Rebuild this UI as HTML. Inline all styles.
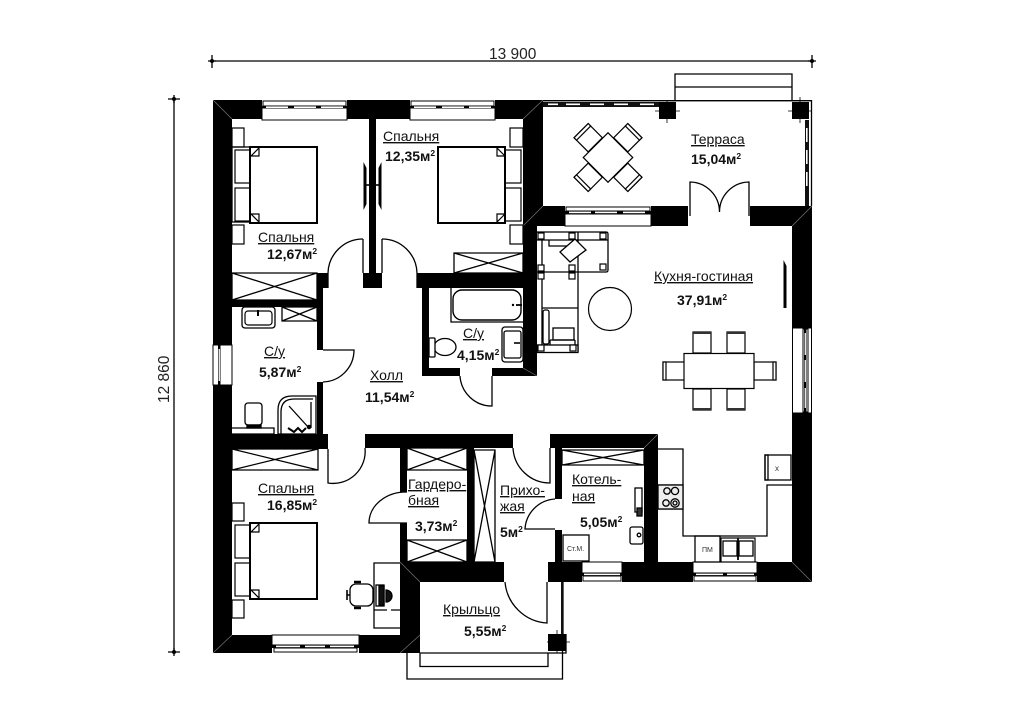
<!DOCTYPE html>
<html><head><meta charset="utf-8"><style>
html,body{margin:0;padding:0;background:#fff}
svg{display:block}
text{font-family:"Liberation Sans",sans-serif;font-size:14px;fill:#111}
.b{font-weight:bold}
.u{text-decoration:underline}
.l{fill:none;stroke:#000;stroke-width:1.3}
.t{fill:none;stroke:#000;stroke-width:.9}
.w{fill:#fff;stroke:#000;stroke-width:1.2}
.s{font-size:8.5px}
</style></head><body>
<svg width="1024" height="724" viewBox="0 0 1024 724" xmlns="http://www.w3.org/2000/svg">
<defs>
<g id="win">
<rect x="0" y="0" width="85" height="20" fill="#fff"/>
<rect x="1" y="1" width="83" height="5" fill="#fff" stroke="#000" stroke-width="1"/>
<rect x="0" y="8" width="85" height="12" fill="#fff" stroke="#000" stroke-width="1"/>
<rect x="0" y="6" width="85" height="2.5" fill="#000"/>
<rect x="4" y="6.4" width="22" height="1.6" fill="#fff"/><rect x="32" y="6.4" width="22" height="1.6" fill="#fff"/><rect x="59" y="6.4" width="22" height="1.6" fill="#fff"/>
</g>
<g id="chair"><rect x="0" y="0" width="18" height="21" class="w"/><rect x="0" y="0" width="18" height="2" fill="#333"/></g>
<g id="tc"><rect x="-10" y="-38" width="20" height="20" class="w"/><rect x="-10" y="-38" width="20" height="3.500" class="w"/></g>
</defs>

<!-- dimensions -->
<path d="M210 61H812" class="l" stroke-width="1.2"/>
<path d="M212 55V68M812 55V68M208 61h8M808 61h8" class="l"/>
<circle cx="212" cy="61" r="2"/><circle cx="812" cy="61" r="2"/>
<path d="M174 99V652" class="l" stroke-width="1.2"/>
<path d="M168 99h12M168 652h12M174 95v8M174 648v8" class="l"/>
<circle cx="174" cy="99" r="2"/><circle cx="174" cy="652" r="2"/>
<text x="489" y="59" style="font-size:15.5px;fill:#222" xml:space="preserve">13 900</text>
<text transform="translate(169,403) rotate(-90)" style="font-size:15.5px;fill:#222" xml:space="preserve">12 860</text>

<!-- terrace / porch light outlines -->
<rect x="543" y="100" width="269" height="1.4" fill="#000"/>
<path d="M811.5 100V206" class="l" stroke-width="1.2"/>
<path d="M675 100V74H792V100M675 87H792" class="l"/>
<path d="M420 653H566V634M407 653V679H562.500V651M420 653V666.500H548V653M563 582V634" class="l"/>

<!-- walls -->
<g fill="#000">
<rect x="213" y="100" width="19" height="553"/>
<rect x="213" y="100" width="330" height="19"/>
<rect x="523" y="100" width="20" height="126"/>
<rect x="369" y="119" width="7" height="154"/>
<rect x="363" y="273" width="19" height="15"/>
<rect x="523" y="206" width="165" height="20"/>
<rect x="750" y="206" width="62" height="20"/>
<rect x="792" y="206" width="20" height="376"/>
<rect x="523" y="226" width="14" height="150"/>
<rect x="417" y="273" width="106" height="15"/>
<rect x="317" y="273" width="11" height="15"/>
<rect x="232" y="300" width="91" height="7"/>
<rect x="317" y="273" width="6" height="77"/>
<rect x="317" y="382" width="6" height="52"/>
<rect x="232" y="434" width="96" height="15"/>
<rect x="422" y="288" width="7" height="88"/>
<rect x="422" y="368" width="38" height="8"/>
<rect x="492" y="368" width="45" height="8"/>
<rect x="365" y="434" width="148" height="14"/>
<rect x="550" y="434" width="108" height="14"/>
<rect x="400" y="448" width="7" height="44"/>
<rect x="400" y="523" width="7" height="40"/>
<rect x="467" y="448" width="7" height="115"/>
<rect x="400" y="562" width="104" height="20"/>
<rect x="400" y="562" width="20" height="91"/>
<rect x="213" y="635" width="207" height="18"/>
<rect x="555" y="448" width="7" height="51"/>
<rect x="555" y="530" width="7" height="35"/>
<rect x="644" y="448" width="14" height="120"/>
<rect x="548" y="562" width="264" height="20"/>
<rect x="548" y="634" width="18" height="17"/>
<rect x="659" y="102" width="17" height="17"/>
<rect x="792" y="102" width="17" height="17"/>
</g>
<path d="M213 100l19 19M543 100l-20 19M213 653l19-18M400 562l20 20M400 653l20-18M812 206l-20 20M812 582l-20-20M658 434l-14 14M543 206l-20 20M537 376l-14-8" stroke="#777" stroke-width=".7"/>
<path d="M655 111h25M667 100v23M788 111h24M800 97v26M547 642h23M557 630v23" stroke="#000" stroke-width=".8"/>

<!-- terrace glazing -->
<g>
<rect x="543" y="102" width="116" height="5" fill="#111"/>
<rect x="566" y="103.500" width="14" height="1.600" fill="#fff"/><rect x="590" y="103.500" width="14" height="1.600" fill="#fff"/><rect x="614" y="103.500" width="14" height="1.600" fill="#fff"/><rect x="640" y="103.500" width="14" height="1.600" fill="#fff"/><rect x="548" y="103.500" width="10" height="1.600" fill="#fff"/>
<rect x="805" y="120" width="4" height="86" fill="#111"/>
<rect x="806" y="128" width="1.600" height="14" fill="#fff"/><rect x="806" y="150" width="1.600" height="14" fill="#fff"/><rect x="806" y="172" width="1.600" height="14" fill="#fff"/>
<rect x="561" y="582" width="2.500" height="52" fill="#111"/>
</g>

<!-- windows -->
<use href="#win" x="262" y="100"/>
<use href="#win" x="410" y="100"/>
<g transform="translate(565,206)"><rect x="0" y="0" width="86" height="20" fill="#fff"/><rect x="1" y="1" width="84" height="4" fill="#fff" stroke="#000"/><rect x="0" y="8" width="86" height="12" fill="#fff" stroke="#000"/><rect y="5" width="86" height="3" fill="#000"/><rect x="4" y="5.600" width="22" height="1.600" fill="#fff"/><rect x="30" y="5.600" width="22" height="1.600" fill="#fff"/><rect x="58" y="5.600" width="22" height="1.600" fill="#fff"/></g>
<g transform="translate(272,635)"><rect width="87" height="18" fill="#fff"/><rect width="87" height="10" fill="#fff" stroke="#000"/><rect x="2" y="13" width="83" height="4" fill="#fff" stroke="#000"/><rect y="10" width="87" height="3" fill="#000"/><rect x="4" y="10.600" width="24" height="1.600" fill="#fff"/><rect x="33" y="10.600" width="20" height="1.600" fill="#fff"/><rect x="58" y="10.600" width="24" height="1.600" fill="#fff"/></g>
<g transform="translate(582,562)"><rect width="40" height="20" fill="#fff"/><rect width="40" height="11" fill="#fff" stroke="#000"/><rect x="1" y="14" width="38" height="5" fill="#fff" stroke="#000"/><rect y="11" width="40" height="3" fill="#000"/><rect x="2" y="11.600" width="36" height="1.500" fill="#fff"/></g>
<g transform="translate(693,562)"><rect width="64" height="20" fill="#fff"/><rect width="64" height="11" fill="#fff" stroke="#000"/><rect x="1" y="14" width="62" height="5" fill="#fff" stroke="#000"/><rect y="11" width="64" height="3" fill="#000"/><rect x="3" y="11.600" width="27" height="1.500" fill="#fff"/><rect x="34" y="11.600" width="27" height="1.500" fill="#fff"/></g>
<g><rect x="213" y="345" width="19" height="40" fill="#fff" stroke="#000"/><rect x="218" y="345" width="2.500" height="40" fill="#000"/><rect x="218.600" y="349" width="1.300" height="32" fill="#fff"/></g>
<g><rect x="792.500" y="328" width="19" height="85" fill="#fff" stroke="#000"/><rect x="803" y="329" width="5" height="83" fill="#fff" stroke="#000"/><rect x="804" y="329" width="2.500" height="83" fill="#000"/><rect x="804.600" y="333" width="1.300" height="22" fill="#fff"/><rect x="804.600" y="360" width="1.300" height="22" fill="#fff"/><rect x="804.600" y="388" width="1.300" height="20" fill="#fff"/></g>

<!-- TV units -->
<path d="M363.500 162L366.500 168V204L363.500 210ZM381.500 162L378.500 168V204L381.500 210Z" fill="#000"/><path d="M366 185H380" stroke="#000" stroke-width="1.600"/>
<path d="M783.500 260L786.500 266V308H783.500Z" fill="#000"/>

<!-- Bedroom 1 bed -->
<g>
<rect x="232" y="128" width="12" height="19" class="w"/><rect x="232" y="225" width="12" height="19" class="w"/>
<rect x="232" y="147" width="20" height="75" class="l"/>
<rect x="250" y="147" width="67" height="76" fill="#fff" stroke="#000" stroke-width="2"/>
<path d="M251 156l8-8v8zM251 214l8 8v-8z" class="w"/>
<rect x="235" y="150" width="15" height="33" class="w"/><rect x="235" y="188" width="15" height="33" class="w"/>
<path d="M250 147v76" stroke="#000" stroke-width="2"/>
</g>
<!-- Bedroom 2 bed -->
<g>
<rect x="510" y="128" width="13" height="19" class="w"/><rect x="510" y="225" width="13" height="19" class="w"/>
<rect x="438" y="147" width="67" height="76" fill="#fff" stroke="#000" stroke-width="2"/>
<path d="M505 156l-8-8v8zM505 214l-8 8v-8z" class="w"/>
<rect x="505" y="150" width="16" height="33" class="w"/><rect x="505" y="188" width="16" height="33" class="w"/>
<path d="M505 147v76" stroke="#000" stroke-width="2"/>
</g>
<!-- Bedroom 3 bed -->
<g>
<rect x="232" y="503" width="12" height="18" class="w"/><rect x="232" y="600" width="12" height="18" class="w"/>
<rect x="250" y="523" width="67" height="76" fill="#fff" stroke="#000" stroke-width="2"/>
<path d="M251 532l8-8v8zM251 590l8 8v-8z" class="w"/>
<rect x="235" y="525" width="15" height="33" class="w"/><rect x="235" y="563" width="15" height="33" class="w"/>
<path d="M250 523v76" stroke="#000" stroke-width="2"/>
</g>

<!-- closets -->
<g class="l" stroke-width="1">
<path d="M454 253H523V273H454ZM454 273L523 253M454 253L523 273"/>
<path d="M232 273H317V300H232ZM232 273L317 300M232 300L317 273"/>
<path d="M282 307H317V321H282ZM282 307L317 321M282 321L317 307"/>
<path d="M232 449H318V470H232ZM232 449L318 470M232 470L318 449"/>
<path d="M407 448H467V470H407ZM407 448L467 470M407 470L467 448"/>
<path d="M407 540H467V562H407ZM407 540L467 562M407 562L467 540"/>
<path d="M474 450H495V562H474ZM474 450L495 562M495 450L474 562"/>
<path d="M562 450H644V465H562ZM562 450L644 465M562 465L644 450"/>
</g>

<!-- doors -->
<g class="l">
<path d="M363 239A35 35 0 0 0 328 273V288"/><path d="M363 239V273"/>
<path d="M382 239A35 35 0 0 1 417 273V288"/><path d="M382 239V273"/>
<path d="M323 350H354A32 32 0 0 1 323 382"/>
<path d="M460 376A32 32 0 0 0 492 406V376"/>
<path d="M365 448A32 32 0 0 1 328 483V449"/>
<path d="M407 492A37 31 0 0 0 369 523H407"/>
<path d="M513 448A37 37 0 0 0 550 483V448"/>
<path d="M555 499A32 32 0 0 0 525 529H555"/>
<path d="M505 582A45 45 0 0 0 547 623V582"/>
<path d="M690 216V182A30 30 0 0 1 719.500 212A30 30 0 0 1 749 182V216"/>
</g>

<!-- Terrace table -->
<g transform="translate(608,157.500) rotate(45)">
<use href="#tc"/><use href="#tc" transform="rotate(90)"/><use href="#tc" transform="rotate(180)"/><use href="#tc" transform="rotate(270)"/>
<rect x="-17.500" y="-17.500" width="35" height="35" class="w" stroke-width="1.400"/>
</g>

<!-- Sofa set -->
<g class="l" stroke-width="1">
<path d="M537 232H606Q608 232 608 234V270Q608 272 606 272H537"/>
<path d="M578 232V352M542 232V352M542 308H578M537 240H608"/>
<path d="M549 240V246H570"/>
<polygon points="560,252 575,239 586,250 570,262" fill="#fff"/>
<rect x="538" y="233" width="6" height="6" class="w"/><rect x="569" y="233" width="6" height="6" class="w"/><rect x="600" y="233" width="6" height="6" class="w"/>
<rect x="600" y="264" width="6" height="6" class="w"/><rect x="569" y="265" width="6" height="6" class="w"/><rect x="569" y="273" width="6" height="6" class="w"/>
<rect x="538" y="265" width="6" height="6" class="w"/><rect x="538" y="273" width="6" height="6" class="w"/>
<rect x="543" y="310" width="6" height="34" rx="2"/>
<rect x="553" y="328" width="21" height="12"/>
<path d="M550 340V345M575 340V345M550 340H575"/>
<rect x="537" y="345" width="41" height="7.500" fill="#fff"/>
<rect x="538" y="345" width="6" height="6" class="w"/><rect x="570" y="345" width="6" height="6" class="w"/>
</g>
<circle cx="610" cy="309" r="21.500" fill="#fff" stroke="#000" stroke-width="1.200"/>

<!-- Dining table -->
<g>
<use href="#chair" x="693" y="332"/><use href="#chair" x="727" y="332"/>
<use href="#chair" transform="translate(711,410) rotate(180)"/><use href="#chair" transform="translate(745,410) rotate(180)"/>
<rect x="663" y="362" width="22" height="18" class="w"/><rect x="663" y="362" width="3" height="18" class="w"/>
<rect x="754" y="362" width="22" height="18" class="w"/><rect x="773" y="362" width="3" height="18" class="w"/>
<rect x="684" y="353.500" width="70" height="35" class="w" stroke-width="1.500"/>
</g>

<!-- Bath 2 -->
<g class="l" stroke-width="1">
<path d="M451 288V322H523"/>
<rect x="453" y="290" width="68" height="30" rx="9" stroke-width="1.400"/>
<circle cx="513" cy="305" r="1.200" fill="#000" stroke="none"/><path d="M516 305h6" stroke-width="1.800"/>
<rect x="502" y="327" width="21" height="35" rx="3"/><rect x="504" y="331" width="17" height="27" rx="2"/>
<path d="M514 343h6" stroke-width="1.600"/>
<ellipse cx="445" cy="347" rx="11" ry="8.500" fill="#fff"/>
<rect x="429" y="338" width="6" height="19" rx="1" fill="#fff"/>
</g>

<!-- Bath 1 -->
<g class="l" stroke-width="1">
<rect x="242" y="307" width="33" height="21" rx="3"/><rect x="245" y="311" width="27" height="14" rx="3" stroke-width="1.200"/>
<path d="M258 310v6" stroke-width="2"/>
<path d="M232 428H274V434H232"/>
<rect x="245" y="403" width="17" height="22" rx="3"/><rect x="247" y="425" width="14" height="3" fill="#000"/>
<path d="M278 434V410Q278 396 292 396H316V434H278M281 434V412Q281 399 294 399H313"/>
<path d="M289 406L309 428M311 402V428"/>
<circle cx="309" cy="427" r="1.600" fill="#000"/><path d="M288 428l6 4l4-4l4 4l4-4" stroke-width="2"/>
</g>

<!-- Desk -->
<g class="l" stroke-width="1">
<path d="M400 563H374V628H400"/>
<path d="M374 610h13M391 610h9" stroke-width="1.300"/>
<rect x="376" y="585" width="8" height="21"/><rect x="379" y="586" width="5" height="19" fill="#111"/>
<path d="M386 590a6 6 0 0 1 0 12z" fill="#111"/>
<rect x="350" y="584" width="23" height="22" rx="6"/>
<path d="M354 582h7M354 608h7" stroke-width="2.400"/>
<path d="M347 590v10M347 595h3" stroke-width="1.600"/>
</g>

<!-- Kotelnaya equipment -->
<g class="l" stroke-width="1">
<rect x="635" y="488" width="7" height="24"/><rect x="637" y="508" width="5" height="8" fill="#333"/>
<rect x="630" y="527" width="13" height="17" rx="2"/><circle cx="639" cy="535" r="1.800"/>
<rect x="563" y="535" width="26" height="26"/>
</g>
<text x="567" y="551" style="font-size:7px;fill:#333">Ст.М.</text>

<!-- Kitchen -->
<g class="l" stroke-width="1">
<path d="M658 449H683V536H767V485H792"/>
<path d="M658 485H683M658 509H683"/>
<rect x="658" y="485" width="25" height="24" fill="#eee"/>
<circle cx="667" cy="491" r="3.200"/><circle cx="675" cy="491" r="3.600"/><circle cx="666" cy="503" r="3.200"/><circle cx="675" cy="503" r="4.200"/><circle cx="675" cy="503" r="2"/>
<rect x="695" y="536" width="25" height="26"/>
<rect x="765" y="455" width="26" height="25"/><rect x="765" y="455" width="3" height="25"/>
<rect x="721" y="538" width="34" height="24" stroke-width="1.200"/><rect x="723" y="541" width="14" height="15"/><rect x="739" y="541" width="14" height="15"/>
<path d="M738 538V560" stroke-width="1.800"/>
</g>
<text x="702" y="552" style="font-size:7px;fill:#333">ПМ</text>
<text x="775" y="471" style="font-size:8px;fill:#333">х</text>

<!-- labels -->
<text x="383" y="141" class="u">Спальня</text>
<text x="385" y="161" class="b">12,35м<tspan dy="-5" class="s">2</tspan></text>
<text x="258" y="242" class="u">Спальня</text>
<text x="267" y="259" class="b">12,67м<tspan dy="-5" class="s">2</tspan></text>
<text x="691" y="144" class="u">Терраса</text>
<text x="691" y="164" class="b">15,04м<tspan dy="-5" class="s">2</tspan></text>
<text x="654" y="281" class="u">Кухня-гостиная</text>
<text x="677" y="305" class="b">37,91м<tspan dy="-5" class="s">2</tspan></text>
<text x="463" y="338" class="u">С/у</text>
<text x="457" y="360" class="b">4,15м<tspan dy="-5" class="s">2</tspan></text>
<text x="264" y="356" class="u">С/у</text>
<text x="259" y="377" class="b">5,87м<tspan dy="-5" class="s">2</tspan></text>
<text x="370" y="380" class="u">Холл</text>
<text x="365" y="402" class="b">11,54м<tspan dy="-5" class="s">2</tspan></text>
<text x="258" y="493" class="u">Спальня</text>
<text x="267" y="510" class="b">16,85м<tspan dy="-5" class="s">2</tspan></text>
<text x="408" y="489" class="u">Гардеро-</text>
<text x="408" y="505" class="u">бная</text>
<text x="415" y="531" class="b">3,73м<tspan dy="-5" class="s">2</tspan></text>
<text x="500" y="495" class="u">Прихо-</text>
<text x="500" y="511" class="u">жая</text>
<text x="500" y="537" class="b">5м<tspan dy="-5" class="s">2</tspan></text>
<text x="572" y="484" class="u">Котель-</text>
<text x="572" y="501" class="u">ная</text>
<text x="580" y="527" class="b">5,05м<tspan dy="-5" class="s">2</tspan></text>
<text x="443" y="614" class="u">Крыльцо</text>
<text x="464" y="636" class="b">5,55м<tspan dy="-5" class="s">2</tspan></text>
</svg>
</body></html>
